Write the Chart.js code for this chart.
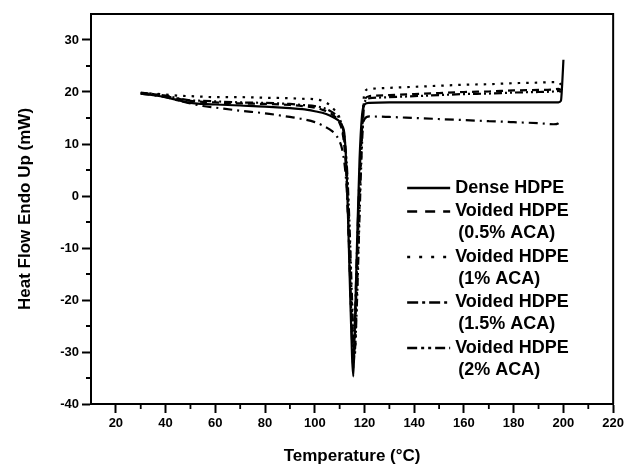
<!DOCTYPE html>
<html>
<head>
<meta charset="utf-8">
<script src="https://cdn.jsdelivr.net/npm/chart.js@4.4.0/dist/chart.umd.min.js"></script>
<style>
html, body { margin: 0; padding: 0; background: #fff; }
</style>
</head>
<body>
<canvas id="dsc" width="627" height="465"></canvas>
<script>
// temperatures (°C) shared by all DSC curves
const temps = [30, 35, 40, 45, 50, 55, 60, 70, 80, 90, 95, 100, 103, 106, 108, 110, 111, 112, 113, 114,
               115, 115.5, 116, 117, 118, 119, 120, 122, 130, 140, 150, 160, 170, 180, 190, 196, 198, 199, 199.5, 200];

// heat flow (mW), one list per sample
const denseHDPE = [19.7, 19.4, 19.0, 18.4, 17.9, 17.7, 17.6, 17.4, 17.2, 16.9, 16.7, 16.3, 16.0, 15.5, 15.0, 14.3, 13.5, 11.5, 2, -15,
                   -31, -34.7, -27, -9, 7, 15.5, 17.6, 17.9, 18.0, 18.0, 18.0, 18.0, 18.0, 18.0, 18.0, 18.0, 18.0, 18.3, 21.5, 26.2];
const voided05 = [19.9, 19.6, 19.2, 18.7, 18.3, 18.1, 18.0, 17.8, 17.7, 17.5, 17.3, 17.0, 16.6, 16.0, 15.3, 14.0, 12.5, 9, 1, -13,
                  -27, -33, -29, -14, 2, 13, 18.5, 19.2, 19.4, 19.6, 19.8, 20.0, 20.1, 20.3, 20.4, 20.5, 20.6, 20.4, null, null];
const voided1 = [19.8, 19.7, 19.5, 19.3, 19.2, 19.1, 19.0, 19.0, 18.9, 18.8, 18.7, 18.6, 18.3, 17.5, 16.5, 15.0, 13.0, 10, 4, -8,
                 -22, -29, -31, -18, -2, 12, 20.0, 20.6, 20.8, 21.0, 21.2, 21.4, 21.5, 21.7, 21.8, 21.9, 21.9, 21.4, null, null];
const voided15 = [19.7, 19.4, 19.0, 18.4, 17.8, 17.3, 17.0, 16.4, 15.9, 15.2, 14.8, 14.2, 13.6, 12.8, 12.0, 10.5, 9, 6, 0, -13,
                  -28, -32, -26, -10, 4, 12, 14.8, 15.3, 15.2, 15.0, 14.8, 14.6, 14.4, 14.2, 14.0, 13.8, 14.0, 14.8, null, null];
const voided2 = [19.8, 19.6, 19.3, 18.8, 18.4, 18.3, 18.2, 18.0, 17.9, 17.7, 17.5, 17.3, 17.0, 16.4, 15.8, 14.8, 13.5, 11, 5, -6,
                 -20, -26, -30, -20, -4, 10, 18.0, 18.8, 19.0, 19.2, 19.4, 19.6, 19.7, 19.9, 20.0, 20.1, 20.2, 20.0, null, null];

const seriesNames = [
  ['Dense HDPE'],
  ['Voided HDPE', '(0.5% ACA)'],
  ['Voided HDPE', '(1% ACA)'],
  ['Voided HDPE', '(1.5% ACA)'],
  ['Voided HDPE', '(2% ACA)']
];
const seriesValues = [denseHDPE, voided05, voided1, voided15, voided2];

// axis ticks
const xTicks = [20, 40, 60, 80, 100, 120, 140, 160, 180, 200, 220];
const xMinor = [30, 50, 70, 90, 110, 130, 150, 170, 190, 210];
const yTicks = [-40, -30, -20, -10, 0, 10, 20, 30];
const yMinor = [-35, -25, -15, -5, 5, 15, 25];

const FONT = "'Liberation Sans', Arial, sans-serif";
const plotDash = [[], [7, 5], [2.5, 6], [9, 5, 2, 5], [8, 3, 2, 3, 2, 3]];
const legendDash = [[], [10, 8], [3, 9], [11, 4, 3, 4], [10, 4, 3, 4, 3, 4]];

const datasets = seriesValues.map((vals, i) => ({
  label: seriesNames[i].join(' '),
  data: temps.map((t, k) => ({ x: t, y: vals[k] })).filter(p => p.y !== null),
  borderColor: '#000',
  borderWidth: 2.2,
  borderDash: plotDash[i],
  pointRadius: 0,
  fill: false,
  cubicInterpolationMode: 'monotone'
}));

// frame on top/right, minor ticks, and the legend inside the plot
const decorations = {
  id: 'decorations',
  afterDraw(chart) {
    const ctx = chart.ctx;
    const a = chart.chartArea;
    const xs = chart.scales.x, ys = chart.scales.y;
    ctx.save();
    ctx.strokeStyle = '#000';
    ctx.lineWidth = 2;
    ctx.beginPath();
    ctx.moveTo(a.left, a.top); ctx.lineTo(a.right, a.top); ctx.lineTo(a.right, a.bottom);
    ctx.stroke();
    ctx.lineWidth = 1.8;
    ctx.beginPath();
    xMinor.forEach(v => { const px = xs.getPixelForValue(v); ctx.moveTo(px, a.bottom); ctx.lineTo(px, a.bottom + 5); });
    yMinor.forEach(v => { const py = ys.getPixelForValue(v); ctx.moveTo(a.left, py); ctx.lineTo(a.left - 5, py); });
    ctx.stroke();

    // legend
    const x0 = a.right - 206, x1 = a.right - 163, tx = a.right - 158;
    let y = 188;
    ctx.fillStyle = '#000';
    ctx.font = 'bold 18px ' + FONT;
    ctx.textBaseline = 'middle';
    seriesNames.forEach((lines, i) => {
      ctx.lineWidth = 2.4;
      ctx.setLineDash(legendDash[i]);
      ctx.beginPath(); ctx.moveTo(x0, y); ctx.lineTo(x1, y); ctx.stroke();
      ctx.setLineDash([]);
      ctx.fillText(lines[0], tx, y);
      if (lines[1]) { y += 22; ctx.fillText(lines[1], tx + 3, y); }
      y += 23.5;
    });
    ctx.restore();
  }
};

new Chart(document.getElementById('dsc'), {
  type: 'line',
  data: { datasets: datasets },
  options: {
    responsive: false,
    animation: false,
    devicePixelRatio: 1,
    layout: { padding: { top: 14, right: 11, left: 0, bottom: 0 } },
    plugins: { legend: { display: false }, tooltip: { enabled: false } },
    scales: {
      x: {
        type: 'linear', min: 10, max: 220,
        afterBuildTicks: s => { s.ticks = xTicks.map(v => ({ value: v })); },
        afterFit: s => { s.height = 61; },
        ticks: { color: '#000', font: { family: FONT, size: 13, weight: 'bold' }, padding: 3, maxRotation: 0, autoSkip: false },
        grid: { drawOnChartArea: false, tickLength: 9, tickWidth: 2, tickColor: '#000' },
        border: { color: '#000', width: 2 },
        title: { display: true, text: 'Temperature (°C)', color: '#000',
                 font: { family: FONT, size: 17, weight: 'bold', lineHeight: 1 }, padding: { top: 0, bottom: 0 } }
      },
      y: {
        min: -40, max: 35,
        afterBuildTicks: s => { s.ticks = yTicks.map(v => ({ value: v })); },
        afterFit: s => { s.width = 91; },
        ticks: { color: '#000', font: { family: FONT, size: 13, weight: 'bold' }, padding: 3 },
        grid: { drawOnChartArea: false, tickLength: 9, tickWidth: 2, tickColor: '#000' },
        border: { color: '#000', width: 2 },
        title: { display: true, text: 'Heat Flow Endo Up (mW)', color: '#000',
                 font: { family: FONT, size: 17, weight: 'bold' }, padding: { top: 15, bottom: 0 } }
      }
    }
  },
  plugins: [decorations]
});
</script>
</body>
</html>
